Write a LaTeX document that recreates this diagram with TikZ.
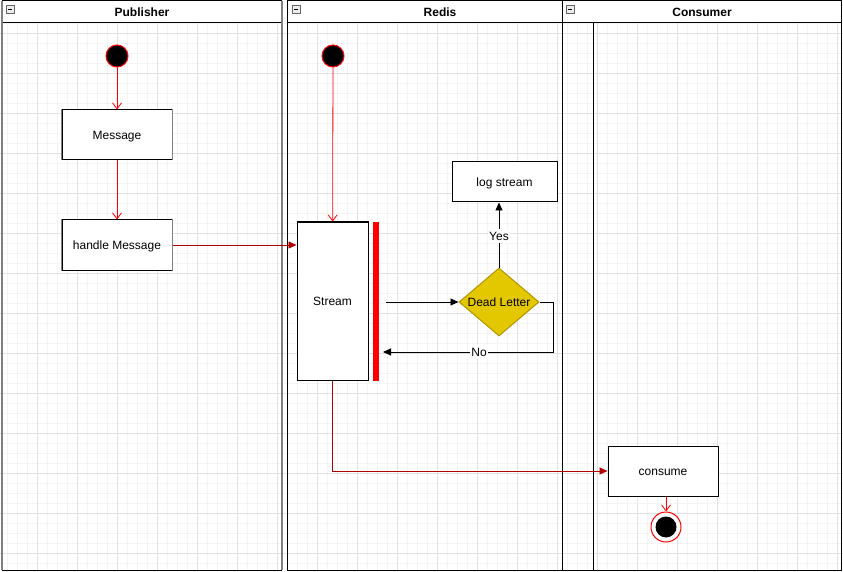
\documentclass[tikz,border=0pt]{standalone}
\usepackage{fontspec}
\setmainfont{Liberation Sans}
\usetikzlibrary{arrows.meta,shapes.geometric}
\definecolor{darkred}{HTML}{B20000}
\definecolor{dlfill}{HTML}{E3C800}
\definecolor{dlline}{HTML}{B09500}
\definecolor{gminor}{HTML}{F4F4F4}
\definecolor{gmajor}{HTML}{E2E2E2}
\tikzset{
  gridminor/.style={draw=gminor, line width=0.8},
  gridmajor/.style={draw=gmajor, line width=0.8},
  lane/.style={draw=black, line width=1},
  txt/.style={font=\fontsize{12}{14}\selectfont, text height=10.5, text depth=1.5},
  lanetitle/.style={txt, font=\fontsize{12}{14}\selectfont\bfseries},
  icon/.style={draw=gray!80!black, fill=gray!15, minimum size=8, inner sep=0, line width=0.6},
  startnode/.style={circle, draw=red, fill=black, minimum size=22, inner sep=0, line width=1},
  box/.style={draw=black, fill=white, minimum width=110, minimum height=50, inner sep=0, line width=1, txt},
  selside/.style={draw=gray, line width=1.5},
  openarr/.style={draw=red, line width=0.8, -{Straight Barb[length=6, width=9]}},
  redarr/.style={draw=darkred, line width=0.8, -{Triangle[length=8, width=7]}},
  blkarr/.style={draw=black, line width=0.9, -{Triangle[length=8, width=7]}},
  lbl/.style={fill=white, inner sep=1, txt},
}
\begin{document}
\begin{tikzpicture}[x=1pt, y=-1pt]
\useasboundingbox (0,0) rectangle (843,572);
\fill[white] (0,0) rectangle (843,572);
% grid
\foreach \x in {7,17,...,843} \draw[gridminor] (\x,0) -- (\x,572);
\foreach \y in {3,13,...,572} \draw[gridminor] (0,\y) -- (843,\y);
\foreach \x in {37,77,...,843} \draw[gridmajor] (\x,0) -- (\x,572);
\foreach \y in {33,73,...,572} \draw[gridmajor] (0,\y) -- (843,\y);
% headers
\fill[white] (0,0) rectangle (843,23);
% Publisher lane
\draw[lane] (2,1) -- (282,1);
\draw[lane] (2,23) -- (282,23);
\draw[lane] (2,570) -- (282,570);
\draw[draw=gray, line width=2] (2,1) -- (2,570);
\draw[draw=gray, line width=2] (282,1) -- (282,570);
\node[lanetitle] (tp) at (142,12) {Publisher};
\node[icon] (ip) at (10.5,9.5) {};
\draw[line width=0.8] (ip.west) ++(2,0) -- ++(4,0);
% Redis lane
\draw[lane] (287,1) rectangle (562,570);
\draw[lane] (287,23) -- (562,23);
\node[lanetitle] (tr) at (440,12) {Redis};
\node[icon] (ir) at (296.5,9.5) {};
\draw[line width=0.8] (ir.west) ++(2,0) -- ++(4,0);
% Consumer lane
\draw[lane] (562,1) rectangle (841,570);
\draw[lane] (562,23) -- (841,23);
\draw[lane] (593,23) -- (593,570);
\node[lanetitle] (tc) at (702,12) {Consumer};
\node[icon] (ic) at (570,9.5) {};
\draw[line width=0.8] (ic.west) ++(2,0) -- ++(4,0);
% Publisher nodes
\node[startnode] (s1) at (117,56) {};
\node[box] (msg) at (117,135) {Message};
\draw[selside] (msg.north west) -- (msg.south west) (msg.north east) -- (msg.south east);
\node[box] (hm) at (117,245) {handle Message};
\draw[selside] (hm.north west) -- (hm.south west) (hm.north east) -- (hm.south east);
% Redis nodes
\node[startnode] (s2) at (333,56) {};
\node[box, minimum width=71, minimum height=158] (stream) at (332.5,301) {Stream};
\node[fill=red, minimum width=6, minimum height=159, inner sep=0] (bar) at (376,301.5) {};
\node[diamond, draw=dlline, fill=dlfill, line width=1, minimum width=80, minimum height=68, inner sep=0, aspect=1.18, txt] (dl) at (499,302) {Dead Letter};
\node[box, minimum width=105, minimum height=40] (log) at (504.5,182) {log stream};
% Consumer nodes
\node[box] (cons) at (663,471) {consume};
\node[circle, draw=red, fill=white, minimum size=30, inner sep=0, line width=1] (end) at (666,527) {};
\node[circle, fill=black, minimum size=21, inner sep=0] (endin) at (666,527) {};
% connectors
\draw[openarr] (s1) -- (msg);
\draw[openarr] (msg) -- (hm);
\draw[redarr] (hm.east) -- (hm.east -| stream.west);
\draw[openarr] (s2) -- (stream);
\coordinate (ao) at (386,302);
\draw[blkarr] (ao) -- (dl.west);
\draw[blkarr] (dl.north) -- (dl.north |- log.south);
\node[lbl] (yes) at (499,236) {Yes};
\coordinate (ni) at (383,352);
\draw[blkarr] (dl.east) -- (553,302) -- (553,352) -- (ni);
\node[lbl] (no) at (479,352) {No};
\draw[redarr] (stream.south) |- (cons.west);
\draw[openarr] (cons.south -| end.north) -- (end.north);
\end{tikzpicture}
\end{document}
